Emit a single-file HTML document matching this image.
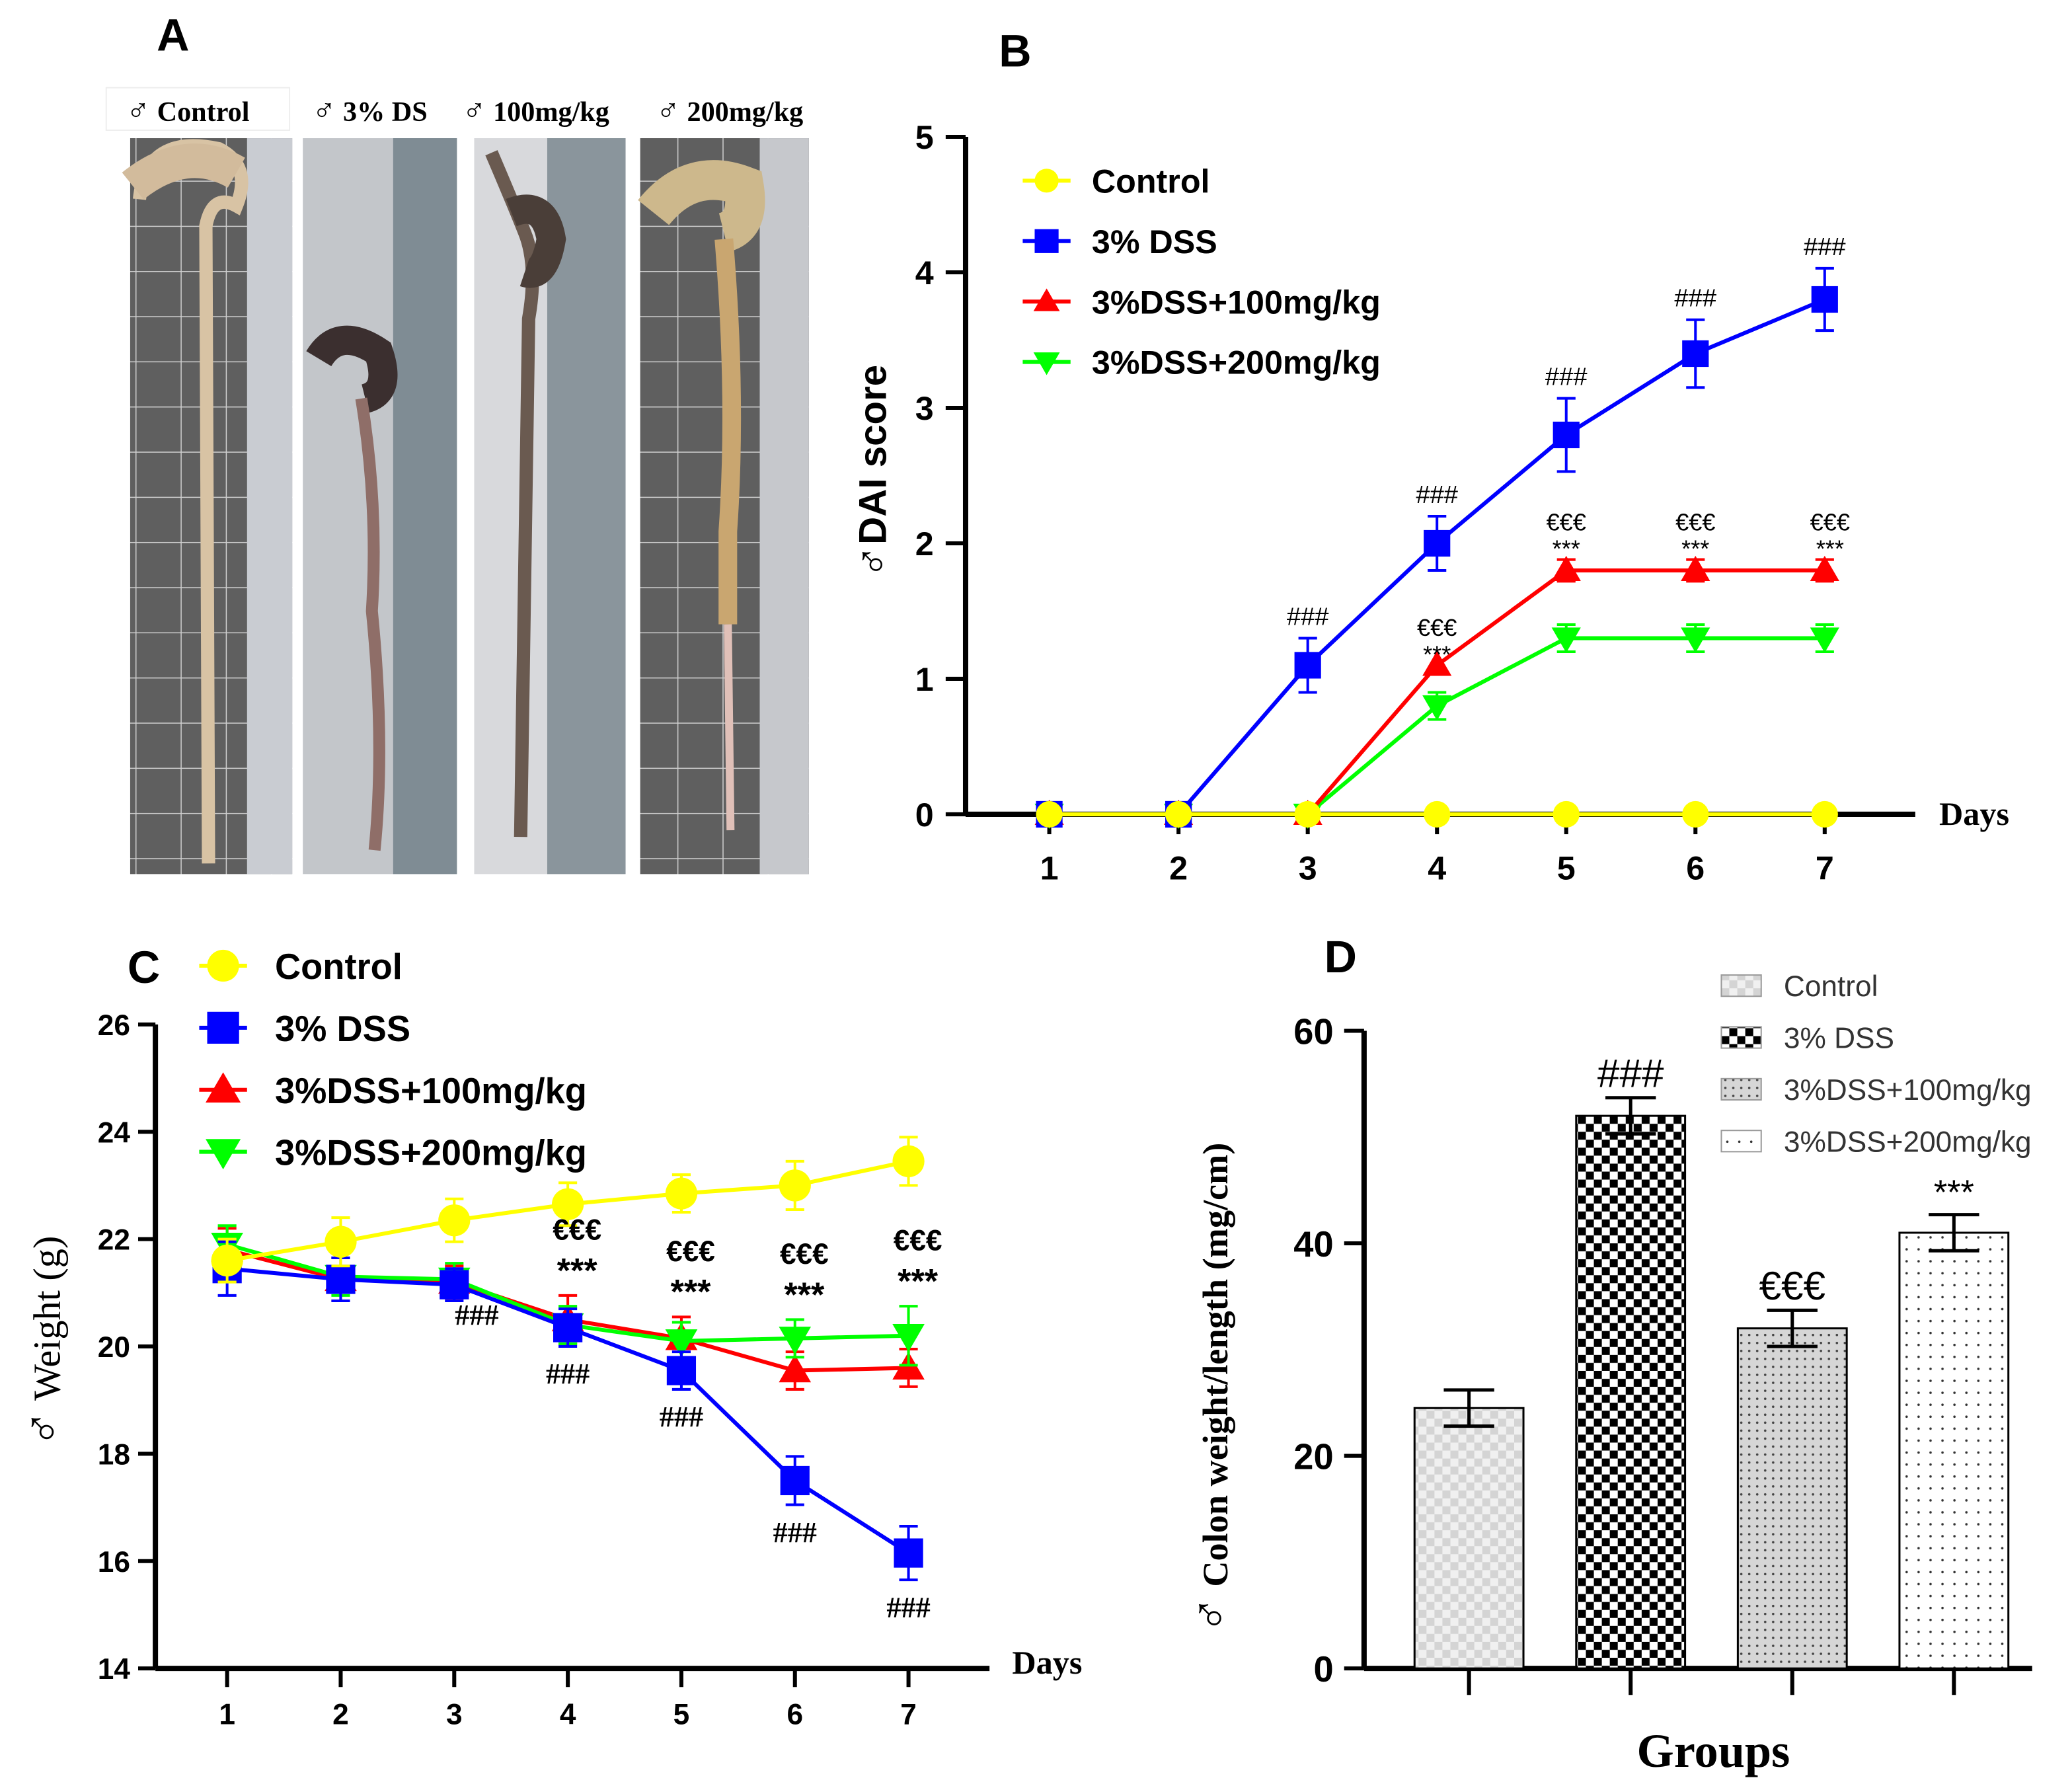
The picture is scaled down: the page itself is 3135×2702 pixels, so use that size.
<!DOCTYPE html>
<html><head><meta charset="utf-8"><style>
html,body{margin:0;padding:0;background:#fff}
svg{display:block}
</style></head><body>
<svg id="fig" width="3135" height="2702" viewBox="0 0 1560 1344.5" xmlns="http://www.w3.org/2000/svg" font-family="Liberation Sans, DejaVu Sans, sans-serif">
<defs>
<pattern id="pCtrl" width="12" height="12" patternUnits="userSpaceOnUse"><rect width="12" height="12" fill="#f0f0f0"/><rect width="6" height="6" fill="#d4d4d4"/><rect x="6" y="6" width="6" height="6" fill="#d4d4d4"/></pattern>
<pattern id="pDss" width="12" height="12" patternUnits="userSpaceOnUse"><rect width="12" height="12" fill="#fff"/><rect width="6" height="6" fill="#000"/><rect x="6" y="6" width="6" height="6" fill="#000"/></pattern>
<pattern id="p100" width="6" height="6" patternUnits="userSpaceOnUse"><rect width="6" height="6" fill="#d6d6d6"/><circle cx="3" cy="3" r="0.9" fill="#444"/></pattern>
<pattern id="p200" width="9" height="9" patternUnits="userSpaceOnUse"><rect width="9" height="9" fill="#fff"/><circle cx="4.5" cy="4.5" r="0.9" fill="#333"/></pattern>
<pattern id="grid" width="34" height="34" patternUnits="userSpaceOnUse"><rect width="34" height="34" fill="#5f5f5f"/><path d="M0 0H34M0 0V34" stroke="#cfcfcf" stroke-width="1.5"/></pattern>
</defs>

<g>
<text x="118" y="38" font-size="34" font-weight="bold">A</text>
<g font-size="21" font-weight="bold" font-family="Liberation Serif, DejaVu Serif, serif">
<rect x="80" y="66" width="138" height="32" fill="#fff" stroke="#eee"/>
<text x="95" y="91"><tspan font-size="24">♂</tspan> Control</text>
<text x="235" y="91"><tspan font-size="24">♂</tspan> 3% DS</text>
<text x="348" y="91"><tspan font-size="24">♂</tspan> 100mg/kg</text>
<text x="494" y="91"><tspan font-size="24">♂</tspan> 200mg/kg</text>
</g>
<g>
<rect x="98" y="104" width="122" height="554" fill="url(#grid)"/>
<rect x="186" y="104" width="34" height="554" fill="#c9ccd2"/>
<path d="M105 150 Q110 100 165 112 Q190 125 178 155 Q160 145 155 170 L157 650" stroke="#d8c3a4" stroke-width="10" fill="none"/>
<path d="M100 140 Q140 108 178 130" stroke="#d2bb9c" stroke-width="26" fill="none"/>
</g>
<g>
<rect x="228" y="104" width="116" height="554" fill="#c3c6ca"/>
<rect x="296" y="104" width="48" height="554" fill="#7f8c94"/>
<path d="M240 270 Q255 245 285 265 Q295 295 275 300" stroke="#3b2f2f" stroke-width="22" fill="none"/>
<path d="M272 300 Q285 380 280 460 Q290 560 282 640" stroke="#8f6e68" stroke-width="9" fill="none"/>
</g>
<g>
<rect x="357" y="104" width="114" height="554" fill="#d8d9dc"/>
<rect x="412" y="104" width="59" height="554" fill="#8a959c"/>
<path d="M370 115 Q385 150 395 175 Q405 200 398 240 L392 630" stroke="#6a5a50" stroke-width="10" fill="none"/>
<path d="M385 160 Q410 150 415 180 Q410 210 395 205" stroke="#4a3e38" stroke-width="22" fill="none"/>
</g>
<g>
<rect x="482" y="104" width="127" height="554" fill="url(#grid)"/>
<rect x="572" y="104" width="37" height="554" fill="#c6c8cc"/>
<path d="M492 160 Q520 125 560 140 Q565 170 545 175" stroke="#cdb88c" stroke-width="30" fill="none"/>
<path d="M545 180 Q555 300 548 400 L548 470" stroke="#c9a670" stroke-width="14" fill="none"/>
<path d="M548 470 L550 625" stroke="#e0c0b8" stroke-width="6" fill="none"/>
</g>
</g>

<g id="panelB">
<text x="752" y="50" font-size="34" font-weight="bold">B</text>
</g>
<g id="panelC">
<text x="96" y="740" font-size="34" font-weight="bold">C</text>
</g>
<g id="panelD">
<text x="997" y="732" font-size="34" font-weight="bold">D</text>
</g>
</svg>
<script>
const NS="http://www.w3.org/2000/svg";
const days=[1,2,3,4,5,6,7];
const daiControl=[0,0,0,0,0,0,0];
const daiDss=[0,0,1.1,2.0,2.8,3.4,3.8];
const daiDssErr=[0,0,0.2,0.2,0.27,0.25,0.23];
const dai100=[0,0,0,1.1,1.8,1.8,1.8];
const dai100Err=[0,0,0,0,0.08,0.08,0.08];
const dai200=[0,0,0,0.8,1.3,1.3,1.3];
const dai200Err=[0,0,0,0.1,0.1,0.1,0.1];
const daiTicks=[0,1,2,3,4,5];
const wControl=[21.6,21.95,22.35,22.65,22.85,23.0,23.45];
const wControlErr=[0.4,0.45,0.4,0.4,0.35,0.45,0.45];
const wDss=[21.45,21.25,21.15,20.35,19.55,17.5,16.15];
const wDssErr=[0.5,0.4,0.3,0.35,0.35,0.45,0.5];
const w100=[21.8,21.25,21.2,20.5,20.15,19.55,19.6];
const w100Err=[0.4,0.4,0.3,0.45,0.4,0.35,0.35];
const w200=[21.9,21.3,21.25,20.4,20.1,20.15,20.2];
const w200Err=[0.35,0.35,0.3,0.35,0.35,0.35,0.55];
const wTicks=[14,16,18,20,22,24,26];
const groups=["Control","3% DSS","3%DSS+100mg/kg","3%DSS+200mg/kg"];
const colonVals=[24.5,52,32,41];
const colonErr=[1.7,1.7,1.7,1.7];
const colonTicks=[0,20,40,60];

const SERIF="Liberation Serif, DejaVu Serif, serif";
function el(tag,attrs,parent,txt){const e=document.createElementNS(NS,tag);for(const k in attrs)e.setAttribute(k,attrs[k]);if(txt!==undefined)e.textContent=txt;parent.appendChild(e);return e;}
function marker(g,shape,x,y,s,color){
  let e;
  if(shape==="circle")e=el("circle",{cx:x,cy:y,r:s,fill:color},g);
  else if(shape==="square")e=el("rect",{x:x-s,y:y-s,width:2*s,height:2*s,fill:color},g);
  else if(shape==="up")e=el("polygon",{points:`${x},${y-s*1.1} ${x-s*1.1},${y+s*0.8} ${x+s*1.1},${y+s*0.8}`,fill:color},g);
  else e=el("polygon",{points:`${x},${y+s*1.1} ${x-s*1.1},${y-s*0.8} ${x+s*1.1},${y-s*0.8}`,fill:color},g);
  return e;
}
function series(g,xs,vals,errs,X,Y,color,shape,s,name){
  const sg=el("g",{},g);
  
  
  el("polyline",{points:vals.map((v,i)=>X(xs[i])+","+Y(v)).join(" "),fill:"none",stroke:color,"stroke-width":3},sg);
  vals.forEach((v,i)=>{
    const e=errs?errs[i]:0;
    if(e>0){const x=X(xs[i]);
      el("path",{d:`M${x},${Y(v+e)}V${Y(v-e)}M${x-7},${Y(v+e)}H${x+7}M${x-7},${Y(v-e)}H${x+7}`,stroke:color,"stroke-width":2,fill:"none"},sg);}
    const m=marker(sg,shape,X(xs[i]),Y(v),s,color);
    
    
  });
}
function label(g,attrs,txt,name){const t=el("text",attrs,g,txt);return t;}
const YEL="#ffff00",BLU="#0000ff",RED="#ff0000",GRN="#00ff00";

// ---------- Panel B ----------
(function(){
  const g=document.getElementById("panelB");
  const X=d=>790+(d-1)*97.3, Y=v=>613-v*102;
  el("line",{x1:727,y1:Y(5),x2:727,y2:613,stroke:"#000","stroke-width":4},g);
  const xa=el("line",{x1:727,y1:613,x2:1442,y2:613,stroke:"#000","stroke-width":4},g);
  
  daiTicks.forEach(t=>{el("line",{x1:712,y1:Y(t),x2:727,y2:Y(t),stroke:"#000","stroke-width":3},g);
    label(g,{x:703,y:Y(t)+9,"font-size":25,"font-weight":"bold","text-anchor":"end"},String(t),'y-tick-label');});
  days.forEach(d=>{el("line",{x1:X(d),y1:613,x2:X(d),y2:628,stroke:"#000","stroke-width":3},g);
    label(g,{x:X(d),y:662,"font-size":25,"font-weight":"bold","text-anchor":"middle"},String(d),'x-tick-label');});
  label(g,{x:1460,y:621,"font-size":25,"font-weight":"bold","font-family":SERIF},"Days",'x-axis-title');
  const yt=label(g,{transform:"translate(667,355) rotate(-90)","font-size":29,"font-weight":"bold","text-anchor":"middle"},"",'y-axis-title');
  el("tspan",{"font-size":34},yt,"♂");el("tspan",{},yt,"DAI score");
  series(g,days,dai200,dai200Err,X,Y,GRN,"down",10,"series-200");
  series(g,days,dai100,dai100Err,X,Y,RED,"up",10,"series-100");
  series(g,days,daiDss,daiDssErr,X,Y,BLU,"square",10,"series-dss");
  series(g,days,daiControl,null,X,Y,YEL,"circle",10,"series-control");
  const leg=[["Control",YEL,"circle"],["3% DSS",BLU,"square"],["3%DSS+100mg/kg",RED,"up"],["3%DSS+200mg/kg",GRN,"down"]];
  leg.forEach((l,i)=>{const y=136+i*45.5;const lg=el("g",{},g);
    
    el("line",{x1:770,y1:y,x2:806,y2:y,stroke:l[1],"stroke-width":3},lg);marker(lg,l[2],788,y,9,l[1]);
    el("text",{x:822,y:y+9,"font-size":25,"font-weight":"bold"},lg,l[0]);});
  days.forEach((d,i)=>{
    if(daiDss[i]>0) label(g,{x:X(d),y:Y(daiDss[i]+daiDssErr[i])-10,"font-size":19,"text-anchor":"middle"},"###",'significance-label');
    if(dai100[i]>0){const xo=X(d)+(d===7?4:0),yb=Y(dai100[i]+dai100Err[i]);
      label(g,{x:xo,y:yb-22,"font-size":18,"text-anchor":"middle"},"€€€",'significance-label');
      label(g,{x:xo,y:yb-2,"font-size":18,"text-anchor":"middle"},"***",'significance-label');}});
})();

// ---------- Panel C ----------
(function(){
  const g=document.getElementById("panelC");
  const X=d=>171+(d-1)*85.5, Y=v=>1256-(v-14)*40.4;
  el("line",{x1:117,y1:Y(26),x2:117,y2:1256,stroke:"#000","stroke-width":4},g);
  const xa=el("line",{x1:117,y1:1256,x2:745,y2:1256,stroke:"#000","stroke-width":4},g);
  
  wTicks.forEach(t=>{el("line",{x1:104,y1:Y(t),x2:117,y2:Y(t),stroke:"#000","stroke-width":3},g);
    label(g,{x:98,y:Y(t)+8,"font-size":22,"font-weight":"bold","text-anchor":"end"},String(t),'y-tick-label');});
  days.forEach(d=>{el("line",{x1:X(d),y1:1256,x2:X(d),y2:1270,stroke:"#000","stroke-width":3},g);
    label(g,{x:X(d),y:1298,"font-size":22,"font-weight":"bold","text-anchor":"middle"},String(d),'x-tick-label');});
  label(g,{x:762,y:1260,"font-size":25,"font-weight":"bold","font-family":SERIF},"Days",'x-axis-title');
  const yt=label(g,{transform:"translate(45,1010) rotate(-90)","font-size":29,"text-anchor":"middle","font-family":SERIF},"",'y-axis-title');
  el("tspan",{"font-size":38},yt,"♂");el("tspan",{},yt," Weight (g)");
  series(g,days,w100,w100Err,X,Y,RED,"up",11,"series-100");
  series(g,days,w200,w200Err,X,Y,GRN,"down",11,"series-200");
  series(g,days,wDss,wDssErr,X,Y,BLU,"square",11,"series-dss");
  series(g,days,wControl,wControlErr,X,Y,YEL,"circle",12,"series-control");
  const leg=[["Control",YEL,"circle"],["3% DSS",BLU,"square"],["3%DSS+100mg/kg",RED,"up"],["3%DSS+200mg/kg",GRN,"down"]];
  leg.forEach((l,i)=>{const y=727+i*46.7;const lg=el("g",{},g);
    
    el("line",{x1:150,y1:y,x2:186,y2:y,stroke:l[1],"stroke-width":3},lg);marker(lg,l[2],168,y,12,l[1]);
    el("text",{x:207,y:y+10,"font-size":27,"font-weight":"bold"},lg,l[0]);});
  days.forEach((d,i)=>{
    if(i>=2) label(g,{x:X(d)+(i===2?17:0),y:Y(wDss[i]-wDssErr[i])+(i===2?18:28),"font-size":22,"font-weight":"bold","text-anchor":"middle","font-family":SERIF},"###",'significance-label');
    if(i>=3){const top=Y(Math.max(w100[i]+w100Err[i],w200[i]+w200Err[i]));
      label(g,{x:X(d)+7,y:top-42,"font-size":22,"font-weight":"bold","text-anchor":"middle"},"€€€",'significance-label');
      label(g,{x:X(d)+7,y:top-10,"font-size":26,"font-weight":"bold","text-anchor":"middle"},"***",'significance-label');}});
})();

// ---------- Panel D ----------
(function(){
  const g=document.getElementById("panelD");
  const Y=v=>1256-v*8, X=i=>1106+i*121.7, bw=82;
  const fills=["url(#pCtrl)","url(#pDss)","url(#p100)","url(#p200)"];
  el("line",{x1:1027,y1:Y(60),x2:1027,y2:1256,stroke:"#000","stroke-width":4},g);
  const xa=el("line",{x1:1027,y1:1256,x2:1530,y2:1256,stroke:"#000","stroke-width":4},g);
  
  colonTicks.forEach(t=>{el("line",{x1:1012,y1:Y(t),x2:1027,y2:Y(t),stroke:"#000","stroke-width":3},g);
    label(g,{x:1004,y:Y(t)+10,"font-size":27,"font-weight":"bold","text-anchor":"end"},String(t),'y-tick-label');});
  colonVals.forEach((v,i)=>{const x=X(i);
    el("line",{x1:x,y1:1256,x2:x,y2:1276,stroke:"#000","stroke-width":3},g);
    const b=el("rect",{x:x-bw/2,y:Y(v),width:bw,height:1256-Y(v),fill:fills[i],stroke:"#000","stroke-width":1.5},g);
    
    
    const e=colonErr[i];
    el("path",{d:`M${x},${Y(v+e)}V${Y(v-e)}M${x-19},${Y(v+e)}H${x+19}M${x-19},${Y(v-e)}H${x+19}`,stroke:"#000","stroke-width":2.5,fill:"none"},g);});
  const sig=["","###","€€€","***"];
  sig.forEach((s,i)=>{if(!s)return;
    label(g,{x:X(i),y:Y(colonVals[i]+colonErr[i])-8,"font-size":s==="***"?26:30,"text-anchor":"middle"},s,'significance-label');});
  label(g,{x:1290,y:1330,"font-size":36,"font-weight":"bold","text-anchor":"middle","font-family":SERIF},"Groups",'x-axis-title');
  const yt=label(g,{transform:"translate(924,1045) rotate(-90)","font-size":27,"font-weight":"bold","text-anchor":"middle","font-family":SERIF},"",'y-axis-title');
  el("tspan",{"font-size":38},yt,"♂");el("tspan",{},yt," Colon weight/length (mg/cm)");
  groups.forEach((n,i)=>{const y=742+i*39;const lg=el("g",{},g);
    
    el("rect",{x:1296,y:y-8,width:30,height:16,fill:fills[i],stroke:"#999","stroke-width":1},lg);
    el("text",{x:1343,y:y+8,"font-size":22,fill:"#333"},lg,n);});
})();
</script>
</body></html>
